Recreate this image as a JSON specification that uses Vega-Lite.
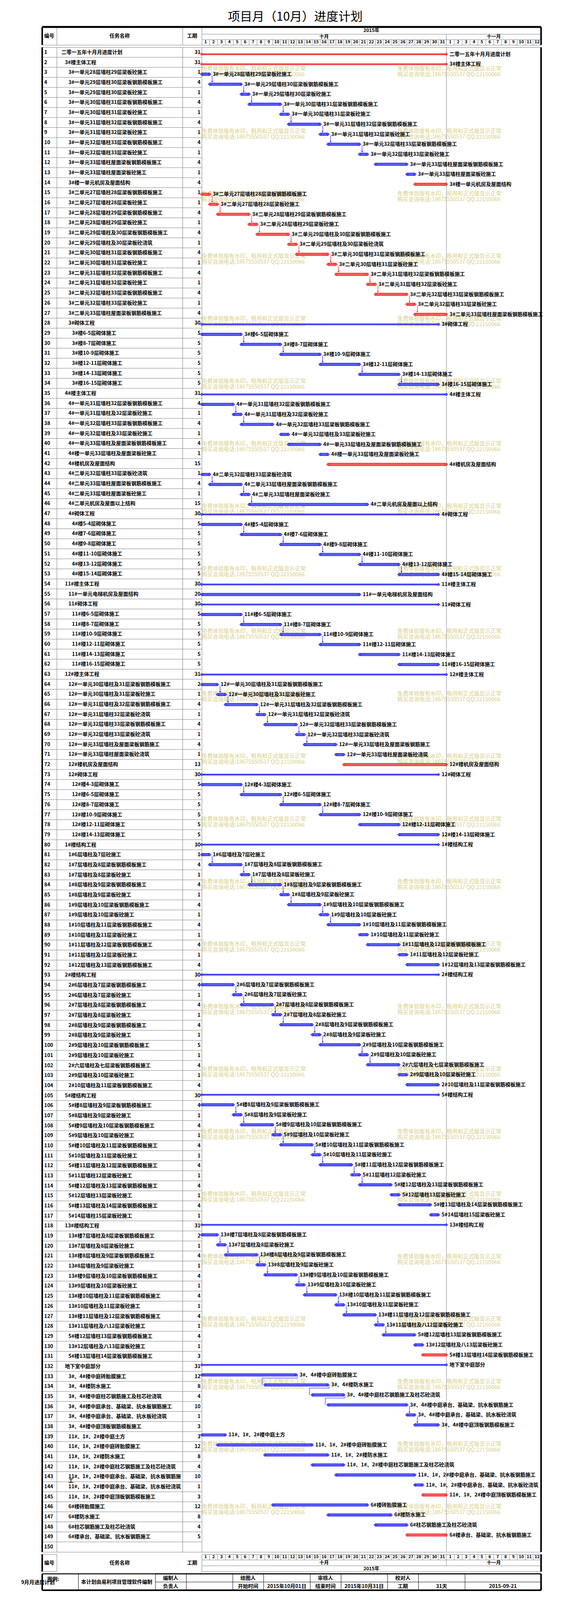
{
"$schema": "https://vega.github.io/schema/vega-lite/v6.json",
"background": "white",
"padding": {"left": 53, "top": 28, "right": 40, "bottom": 16},
"title": {"text": "项目月（10月）进度计划", "fontSize": 31, "fontWeight": "normal", "font": "Noto Sans CJK SC", "anchor": "middle", "offset": 6, "color": "black", "dx": 34},
"config": {
  "view": {"stroke": "#808080", "strokeWidth": 1},
  "text": {"font": "Noto Sans CJK SC", "fontWeight": "bold", "fontSize": 13, "color": "black"},
  "axis": {"disable": true},
  "legend": {"disable": true},
  "concat": {"spacing": 0}
},
"datasets": {
  "tasks": [
    {"id":1,"n":"二零一五年十月月进度计划","d":31,"s":0,"e":31,"c":1,"m":1,"lv":0},
    {"id":2,"n":"3#楼主体工程","d":31,"s":0,"e":31,"c":1,"m":1,"lv":1},
    {"id":3,"n":"3#一单元28层墙柱29层梁板砼施工","d":1,"s":0,"e":1,"c":0,"m":0,"lv":2},
    {"id":4,"n":"3#一单元29层墙柱30层梁板钢筋模板施工","d":4,"s":1,"e":5,"c":0,"m":0,"lv":2},
    {"id":5,"n":"3#一单元29层墙柱30层梁板砼施工","d":1,"s":5,"e":6,"c":0,"m":0,"lv":2},
    {"id":6,"n":"3#一单元30层墙柱31层梁板钢筋模板施工","d":4,"s":6,"e":10,"c":0,"m":0,"lv":2},
    {"id":7,"n":"3#一单元30层墙柱31层梁板砼施工","d":1,"s":10,"e":11,"c":0,"m":0,"lv":2},
    {"id":8,"n":"3#一单元31层墙柱32层梁板钢筋模板施工","d":4,"s":11,"e":15,"c":0,"m":0,"lv":2},
    {"id":9,"n":"3#一单元31层墙柱32层梁板砼施工","d":1,"s":15,"e":16,"c":0,"m":0,"lv":2},
    {"id":10,"n":"3#一单元32层墙柱33层梁板钢筋模板施工","d":4,"s":16,"e":20,"c":0,"m":0,"lv":2},
    {"id":11,"n":"3#一单元32层墙柱33层梁板砼施工","d":1,"s":20,"e":21,"c":0,"m":0,"lv":2},
    {"id":12,"n":"3#一单元33层墙柱屋面梁板钢筋模板施工","d":4,"s":22,"e":26,"c":0,"m":0,"lv":2},
    {"id":13,"n":"3#一单元33层墙柱屋面梁板砼施工","d":1,"s":26,"e":27,"c":0,"m":0,"lv":2},
    {"id":14,"n":"3#楼一单元机房及屋面结构","d":4,"s":27,"e":31,"c":1,"m":0,"lv":2},
    {"id":15,"n":"3#二单元27层墙柱28层梁板钢筋模板施工","d":1,"s":0,"e":1,"c":1,"m":0,"lv":2},
    {"id":16,"n":"3#二单元27层墙柱28层梁板砼施工","d":1,"s":1,"e":2,"c":1,"m":0,"lv":2},
    {"id":17,"n":"3#二单元28层墙柱29层梁板钢筋模板施工","d":4,"s":2,"e":6,"c":1,"m":0,"lv":2},
    {"id":18,"n":"3#二单元28层墙柱29层梁板砼施工","d":1,"s":6,"e":7,"c":1,"m":0,"lv":2},
    {"id":19,"n":"3#二单元29层墙柱及30层梁板钢筋模板施工","d":4,"s":7,"e":11,"c":1,"m":0,"lv":2},
    {"id":20,"n":"3#二单元29层墙柱及30层梁板砼浇筑","d":1,"s":11,"e":12,"c":1,"m":0,"lv":2},
    {"id":21,"n":"3#二单元30层墙柱31层梁板钢筋模板施工","d":4,"s":12,"e":16,"c":1,"m":0,"lv":2},
    {"id":22,"n":"3#二单元30层墙柱31层梁板砼施工","d":1,"s":16,"e":17,"c":1,"m":0,"lv":2},
    {"id":23,"n":"3#二单元31层墙柱32层梁板钢筋模板施工","d":4,"s":17,"e":21,"c":1,"m":0,"lv":2},
    {"id":24,"n":"3#二单元31层墙柱32层梁板砼施工","d":1,"s":21,"e":22,"c":1,"m":0,"lv":2},
    {"id":25,"n":"3#二单元32层墙柱33层梁板钢筋模板施工","d":4,"s":22,"e":26,"c":1,"m":0,"lv":2},
    {"id":26,"n":"3#二单元32层墙柱33层梁板砼施工","d":1,"s":26,"e":27,"c":1,"m":0,"lv":2},
    {"id":27,"n":"3#二单元33层墙柱屋面梁板钢筋模板施工","d":4,"s":27,"e":31,"c":1,"m":0,"lv":2},
    {"id":28,"n":"3#砌体工程","d":30,"s":0,"e":30,"c":0,"m":1,"lv":2},
    {"id":29,"n":"3#楼6-5层砌体施工","d":5,"s":0,"e":5,"c":0,"m":0,"lv":3},
    {"id":30,"n":"3#楼8-7层砌体施工","d":5,"s":5,"e":10,"c":0,"m":0,"lv":3},
    {"id":31,"n":"3#楼10-9层砌体施工","d":5,"s":10,"e":15,"c":0,"m":0,"lv":3},
    {"id":32,"n":"3#楼12-11层砌体施工","d":5,"s":15,"e":20,"c":0,"m":0,"lv":3},
    {"id":33,"n":"3#楼14-13层砌体施工","d":5,"s":20,"e":25,"c":0,"m":0,"lv":3},
    {"id":34,"n":"3#楼16-15层砌体施工","d":5,"s":25,"e":30,"c":0,"m":0,"lv":3},
    {"id":35,"n":"4#楼主体工程","d":31,"s":0,"e":31,"c":0,"m":1,"lv":1},
    {"id":36,"n":"4#一单元31层墙柱32层梁板钢筋模板施工","d":4,"s":0,"e":4,"c":0,"m":0,"lv":2},
    {"id":37,"n":"4#一单元31层墙柱及32层梁板砼施工","d":1,"s":4,"e":5,"c":0,"m":0,"lv":2},
    {"id":38,"n":"4#一单元32层墙柱33层梁板钢筋模板施工","d":4,"s":5,"e":9,"c":0,"m":0,"lv":2},
    {"id":39,"n":"4#一单元32层墙柱及33层梁板砼施工","d":1,"s":10,"e":11,"c":0,"m":0,"lv":2},
    {"id":40,"n":"4#一单元33层墙柱及屋面梁板钢筋模板施工","d":4,"s":11,"e":15,"c":0,"m":0,"lv":2},
    {"id":41,"n":"4#楼一单元33层墙柱及屋面梁板砼施工","d":1,"s":15,"e":16,"c":0,"m":0,"lv":2},
    {"id":42,"n":"4#楼机房及屋面结构","d":15,"s":16,"e":31,"c":1,"m":0,"lv":2},
    {"id":43,"n":"4#二单元32层墙柱33层梁板砼浇筑","d":1,"s":0,"e":1,"c":0,"m":0,"lv":2},
    {"id":44,"n":"4#二单元33层墙柱屋面梁板钢筋模板施工","d":4,"s":1,"e":5,"c":0,"m":0,"lv":2},
    {"id":45,"n":"4#二单元33层墙柱屋面梁板砼施工","d":1,"s":5,"e":6,"c":0,"m":0,"lv":2},
    {"id":46,"n":"4#二单元机房及屋面以上结构","d":15,"s":6,"e":21,"c":0,"m":0,"lv":2},
    {"id":47,"n":"4#砌体工程","d":30,"s":0,"e":30,"c":0,"m":1,"lv":2},
    {"id":48,"n":"4#楼5-4层砌体施工","d":5,"s":0,"e":5,"c":0,"m":0,"lv":3},
    {"id":49,"n":"4#楼7-6层砌体施工","d":5,"s":5,"e":10,"c":0,"m":0,"lv":3},
    {"id":50,"n":"4#楼9-8层砌体施工","d":5,"s":10,"e":15,"c":0,"m":0,"lv":3},
    {"id":51,"n":"4#楼11-10层砌体施工","d":5,"s":15,"e":20,"c":0,"m":0,"lv":3},
    {"id":52,"n":"4#楼13-12层砌体施工","d":5,"s":20,"e":25,"c":0,"m":0,"lv":3},
    {"id":53,"n":"4#楼15-14层砌体施工","d":5,"s":25,"e":30,"c":0,"m":0,"lv":3},
    {"id":54,"n":"11#楼主体工程","d":30,"s":0,"e":30,"c":0,"m":1,"lv":1},
    {"id":55,"n":"11#一单元电梯机房及屋面结构","d":20,"s":0,"e":20,"c":0,"m":0,"lv":2},
    {"id":56,"n":"11#砌体工程","d":30,"s":0,"e":30,"c":0,"m":1,"lv":2},
    {"id":57,"n":"11#楼6-5层砌体施工","d":5,"s":0,"e":5,"c":0,"m":0,"lv":3},
    {"id":58,"n":"11#楼8-7层砌体施工","d":5,"s":5,"e":10,"c":0,"m":0,"lv":3},
    {"id":59,"n":"11#楼10-9层砌体施工","d":5,"s":10,"e":15,"c":0,"m":0,"lv":3},
    {"id":60,"n":"11#楼12-11层砌体施工","d":5,"s":15,"e":20,"c":0,"m":0,"lv":3},
    {"id":61,"n":"11#楼14-13层砌体施工","d":5,"s":20,"e":25,"c":0,"m":0,"lv":3},
    {"id":62,"n":"11#楼16-15层砌体施工","d":5,"s":25,"e":30,"c":0,"m":0,"lv":3},
    {"id":63,"n":"12#楼主体工程","d":31,"s":0,"e":31,"c":0,"m":1,"lv":1},
    {"id":64,"n":"12#一单元30层墙柱及31层梁板钢筋模板施工","d":2,"s":0,"e":2,"c":0,"m":0,"lv":2},
    {"id":65,"n":"12#一单元30层墙柱及31层梁板砼施工","d":1,"s":2,"e":3,"c":0,"m":0,"lv":2},
    {"id":66,"n":"12#一单元31层墙柱及32层梁板钢筋模板施工","d":4,"s":3,"e":7,"c":0,"m":0,"lv":2},
    {"id":67,"n":"12#一单元31层墙柱32层梁板砼浇筑","d":1,"s":7,"e":8,"c":0,"m":0,"lv":2},
    {"id":68,"n":"12#一单元32层墙柱33层梁板钢筋模板施工","d":4,"s":8,"e":12,"c":0,"m":0,"lv":2},
    {"id":69,"n":"12#一单元32层墙柱33层梁板砼浇筑","d":1,"s":12,"e":13,"c":0,"m":0,"lv":2},
    {"id":70,"n":"12#一单元33层墙柱及屋面梁板钢筋施工","d":4,"s":13,"e":17,"c":0,"m":0,"lv":2},
    {"id":71,"n":"12#一单元33层墙柱屋面梁板砼浇筑","d":1,"s":17,"e":18,"c":0,"m":0,"lv":2},
    {"id":72,"n":"12#楼机房及屋面结构","d":13,"s":18,"e":31,"c":1,"m":0,"lv":2},
    {"id":73,"n":"12#砌体工程","d":30,"s":0,"e":30,"c":0,"m":1,"lv":2},
    {"id":74,"n":"12#楼4-3层砌体施工","d":5,"s":0,"e":5,"c":0,"m":0,"lv":3},
    {"id":75,"n":"12#楼6-5层砌体施工","d":5,"s":5,"e":10,"c":0,"m":0,"lv":3},
    {"id":76,"n":"12#楼8-7层砌体施工","d":5,"s":10,"e":15,"c":0,"m":0,"lv":3},
    {"id":77,"n":"12#楼10-9层砌体施工","d":5,"s":15,"e":20,"c":0,"m":0,"lv":3},
    {"id":78,"n":"12#楼12-11层砌体施工","d":5,"s":20,"e":25,"c":0,"m":0,"lv":3},
    {"id":79,"n":"12#楼14-13层砌体施工","d":5,"s":25,"e":30,"c":0,"m":0,"lv":3},
    {"id":80,"n":"1#楼结构工程","d":30,"s":0,"e":30,"c":0,"m":1,"lv":1},
    {"id":81,"n":"1#6层墙柱及7层砼施工","d":1,"s":0,"e":1,"c":0,"m":0,"lv":2},
    {"id":82,"n":"1#7层墙柱及8层梁板钢筋模板施工","d":4,"s":1,"e":5,"c":0,"m":0,"lv":2},
    {"id":83,"n":"1#7层墙柱及8层梁板砼施工","d":1,"s":5,"e":6,"c":0,"m":0,"lv":2},
    {"id":84,"n":"1#8层墙柱及9层梁板钢筋模板施工","d":4,"s":6,"e":10,"c":0,"m":0,"lv":2},
    {"id":85,"n":"1#8层墙柱及9层梁板砼施工","d":1,"s":10,"e":11,"c":0,"m":0,"lv":2},
    {"id":86,"n":"1#9层墙柱及10层梁板钢筋模板施工","d":4,"s":11,"e":15,"c":0,"m":0,"lv":2},
    {"id":87,"n":"1#9层墙柱及10层梁板砼施工","d":1,"s":15,"e":16,"c":0,"m":0,"lv":2},
    {"id":88,"n":"1#10层墙柱及11层梁板钢筋模板施工","d":4,"s":16,"e":20,"c":0,"m":0,"lv":2},
    {"id":89,"n":"1#10层墙柱及11层梁板砼施工","d":1,"s":20,"e":21,"c":0,"m":0,"lv":2},
    {"id":90,"n":"1#11层墙柱及12层梁板钢筋模板施工","d":4,"s":21,"e":25,"c":0,"m":0,"lv":2},
    {"id":91,"n":"1#11层墙柱及12层梁板砼施工","d":1,"s":25,"e":26,"c":0,"m":0,"lv":2},
    {"id":92,"n":"1#12层墙柱及13层梁板钢筋模板施工","d":4,"s":26,"e":30,"c":0,"m":0,"lv":2},
    {"id":93,"n":"2#楼结构工程","d":30,"s":0,"e":30,"c":0,"m":1,"lv":1},
    {"id":94,"n":"2#6层墙柱及7层梁板钢筋模板施工","d":4,"s":0,"e":4,"c":0,"m":0,"lv":2},
    {"id":95,"n":"2#6层墙柱及7层梁板砼施工","d":1,"s":4,"e":5,"c":0,"m":0,"lv":2},
    {"id":96,"n":"2#7层墙柱及8层梁板钢筋模板施工","d":4,"s":5,"e":9,"c":0,"m":0,"lv":2},
    {"id":97,"n":"2#7层墙柱及8层梁板砼施工","d":1,"s":9,"e":10,"c":0,"m":0,"lv":2},
    {"id":98,"n":"2#8层墙柱及9层梁板钢筋模板施工","d":4,"s":10,"e":14,"c":0,"m":0,"lv":2},
    {"id":99,"n":"2#8层墙柱及9层梁板砼施工","d":1,"s":14,"e":15,"c":0,"m":0,"lv":2},
    {"id":100,"n":"2#9层墙柱及10层梁板钢筋模板施工","d":5,"s":15,"e":20,"c":0,"m":0,"lv":2},
    {"id":101,"n":"2#9层墙柱及10层梁板砼施工","d":1,"s":20,"e":21,"c":0,"m":0,"lv":2},
    {"id":102,"n":"2#六层墙柱及七层梁板钢筋模板施工","d":4,"s":21,"e":25,"c":0,"m":0,"lv":2},
    {"id":103,"n":"2#9层墙柱及10层梁板砼施工","d":1,"s":25,"e":26,"c":0,"m":0,"lv":2},
    {"id":104,"n":"2#10层墙柱及11层梁板钢筋模板施工","d":4,"s":26,"e":30,"c":0,"m":0,"lv":2},
    {"id":105,"n":"5#楼结构工程","d":30,"s":0,"e":30,"c":0,"m":1,"lv":1},
    {"id":106,"n":"5#楼8层墙柱及9层梁板钢筋模板施工","d":4,"s":0,"e":4,"c":0,"m":0,"lv":2},
    {"id":107,"n":"5#8层墙柱及9层梁板砼施工","d":1,"s":4,"e":5,"c":0,"m":0,"lv":2},
    {"id":108,"n":"5#楼9层墙柱及10层梁板钢筋模板施工","d":4,"s":5,"e":9,"c":0,"m":0,"lv":2},
    {"id":109,"n":"5#9层墙柱及10层梁板砼施工","d":1,"s":9,"e":10,"c":0,"m":0,"lv":2},
    {"id":110,"n":"5#楼10层墙柱及11层梁板钢筋模板施工","d":4,"s":10,"e":14,"c":0,"m":0,"lv":2},
    {"id":111,"n":"5#10层墙柱及11层梁板砼施工","d":1,"s":14,"e":15,"c":0,"m":0,"lv":2},
    {"id":112,"n":"5#楼11层墙柱及12层梁板钢筋模板施工","d":4,"s":15,"e":19,"c":0,"m":0,"lv":2},
    {"id":113,"n":"5#11层墙柱12层梁板砼施工","d":1,"s":19,"e":20,"c":0,"m":0,"lv":2},
    {"id":114,"n":"5#楼12层墙柱及13层梁板钢筋模板施工","d":4,"s":20,"e":24,"c":0,"m":0,"lv":2},
    {"id":115,"n":"5#12层墙柱13层梁板砼施工","d":1,"s":24,"e":25,"c":0,"m":0,"lv":2},
    {"id":116,"n":"5#楼13层墙柱及14层梁板钢筋模板施工","d":4,"s":25,"e":29,"c":0,"m":0,"lv":2},
    {"id":117,"n":"5#14层墙柱15层梁板砼施工","d":1,"s":29,"e":30,"c":0,"m":0,"lv":2},
    {"id":118,"n":"13#楼结构工程","d":31,"s":0,"e":31,"c":0,"m":1,"lv":1},
    {"id":119,"n":"13#楼7层墙柱及8层梁板钢筋模板施工","d":2,"s":0,"e":2,"c":0,"m":0,"lv":2},
    {"id":120,"n":"13#7层墙柱及8层梁板砼施工","d":1,"s":2,"e":3,"c":0,"m":0,"lv":2},
    {"id":121,"n":"13#楼8层墙柱及9层梁板钢筋模板施工","d":4,"s":3,"e":7,"c":0,"m":0,"lv":2},
    {"id":122,"n":"13#8层墙柱及9层梁板砼施工","d":1,"s":7,"e":8,"c":0,"m":0,"lv":2},
    {"id":123,"n":"13#楼9层墙柱及10层梁板钢筋模板施工","d":4,"s":8,"e":12,"c":0,"m":0,"lv":2},
    {"id":124,"n":"13#9层墙柱及10层梁板砼施工","d":1,"s":12,"e":13,"c":0,"m":0,"lv":2},
    {"id":125,"n":"13#楼10层墙柱及11层梁板钢筋模板施工","d":4,"s":13,"e":17,"c":0,"m":0,"lv":2},
    {"id":126,"n":"13#10层墙柱及11层梁板砼施工","d":1,"s":17,"e":18,"c":0,"m":0,"lv":2},
    {"id":127,"n":"13#楼11层墙柱及12层梁板钢筋模板施工","d":4,"s":18,"e":22,"c":0,"m":0,"lv":2},
    {"id":128,"n":"13#11层墙柱及八12层梁板砼施工","d":1,"s":22,"e":23,"c":0,"m":0,"lv":2},
    {"id":129,"n":"5#楼12层墙柱13层梁板钢筋模板施工","d":4,"s":23,"e":27,"c":0,"m":0,"lv":2},
    {"id":130,"n":"13#12层墙柱及八13层梁板砼施工","d":1,"s":27,"e":28,"c":0,"m":0,"lv":2},
    {"id":131,"n":"5#楼13层墙柱14层梁板钢筋模板施工","d":3,"s":28,"e":31,"c":1,"m":0,"lv":2},
    {"id":132,"n":"地下室中庭部分","d":31,"s":0,"e":31,"c":0,"m":1,"lv":1},
    {"id":133,"n":"3#、4#楼中庭砖胎膜施工","d":12,"s":0,"e":12,"c":0,"m":0,"lv":2},
    {"id":134,"n":"3#、4#楼防水施工","d":8,"s":8,"e":16,"c":0,"m":0,"lv":2},
    {"id":135,"n":"3#、4#楼中庭柱芯钢筋施工及柱芯砼浇筑","d":4,"s":14,"e":18,"c":0,"m":0,"lv":2},
    {"id":136,"n":"3#、4#楼中庭承台、基础梁、抗水板钢筋施工","d":10,"s":16,"e":26,"c":0,"m":0,"lv":2},
    {"id":137,"n":"3#、4#楼中庭承台、基础梁、抗水板砼浇筑","d":1,"s":26,"e":27,"c":0,"m":0,"lv":2},
    {"id":138,"n":"3#、4#楼中庭顶板钢筋模板施工","d":3,"s":27,"e":30,"c":0,"m":0,"lv":2},
    {"id":139,"n":"11#、1#、2#楼中庭土方","d":3,"s":0,"e":3,"c":0,"m":0,"lv":2},
    {"id":140,"n":"11#、1#、2#楼中庭砖胎膜施工","d":12,"s":2,"e":14,"c":0,"m":0,"lv":2},
    {"id":141,"n":"11#、1#、2#楼防水施工","d":8,"s":8,"e":16,"c":0,"m":0,"lv":2},
    {"id":142,"n":"11#、1#、2#楼中庭柱芯钢筋施工及柱芯砼浇筑","d":4,"s":14,"e":18,"c":0,"m":0,"lv":2},
    {"id":143,"n":"11#、1#，2#楼中庭承台、基础梁、抗水板钢筋施\n工","d":10,"s":17,"e":27,"c":0,"m":0,"lv":2},
    {"id":144,"n":"11#、1#、2#楼中庭承台、基础梁、抗水板砼浇筑","d":1,"s":27,"e":28,"c":0,"m":0,"lv":2},
    {"id":145,"n":"11#、1#、2#楼中庭顶板钢筋模板施工","d":3,"s":28,"e":31,"c":1,"m":0,"lv":2},
    {"id":146,"n":"6#楼砖胎膜施工","d":12,"s":9,"e":21,"c":0,"m":0,"lv":2},
    {"id":147,"n":"6#楼防水施工","d":8,"s":16,"e":24,"c":0,"m":0,"lv":2},
    {"id":148,"n":"6#柱芯钢筋施工及柱芯砼浇筑","d":4,"s":22,"e":26,"c":0,"m":0,"lv":2},
    {"id":149,"n":"6#楼承台、基础梁、抗水板钢筋施工","d":5,"s":26,"e":31,"c":1,"m":0,"lv":2},
    {"id":150,"n":"","d":null,"s":null,"e":null,"c":0,"m":0,"lv":2}
  ],
  "links": [
    {"a":3,"b":4,"d":1,"c":0},{"a":4,"b":5,"d":5,"c":0},{"a":5,"b":6,"d":6,"c":0},{"a":6,"b":7,"d":10,"c":0},
    {"a":7,"b":8,"d":11,"c":0},{"a":8,"b":9,"d":15,"c":0},{"a":9,"b":10,"d":16,"c":0},{"a":10,"b":11,"d":20,"c":0},
    {"a":15,"b":16,"d":1,"c":1},{"a":16,"b":17,"d":2,"c":1},{"a":17,"b":18,"d":6,"c":1},{"a":18,"b":19,"d":7,"c":1},
    {"a":19,"b":20,"d":11,"c":1},{"a":20,"b":21,"d":12,"c":1},{"a":21,"b":22,"d":16,"c":1},{"a":22,"b":23,"d":17,"c":1},
    {"a":23,"b":24,"d":21,"c":1},{"a":24,"b":25,"d":22,"c":1},{"a":25,"b":26,"d":26,"c":1},{"a":26,"b":27,"d":27,"c":1},
    {"a":29,"b":30,"d":5,"c":0},{"a":30,"b":31,"d":10,"c":0},{"a":31,"b":32,"d":15,"c":0},{"a":32,"b":33,"d":20,"c":0},{"a":33,"b":34,"d":25,"c":0},
    {"a":36,"b":37,"d":4,"c":0},{"a":37,"b":38,"d":5,"c":0},
    {"a":43,"b":44,"d":1,"c":0},{"a":44,"b":45,"d":5,"c":0},{"a":45,"b":46,"d":6,"c":0},
    {"a":48,"b":49,"d":5,"c":0},{"a":49,"b":50,"d":10,"c":0},{"a":50,"b":51,"d":15,"c":0},{"a":51,"b":52,"d":20,"c":0},{"a":52,"b":53,"d":25,"c":0},
    {"a":57,"b":58,"d":5,"c":0},{"a":58,"b":59,"d":10,"c":0},{"a":59,"b":60,"d":15,"c":0},
    {"a":64,"b":65,"d":2,"c":0},{"a":65,"b":66,"d":3,"c":0},{"a":66,"b":67,"d":7,"c":0},{"a":67,"b":68,"d":8,"c":0},{"a":68,"b":69,"d":12,"c":0},{"a":69,"b":70,"d":13,"c":0},
    {"a":74,"b":75,"d":5,"c":0},{"a":75,"b":76,"d":10,"c":0},{"a":76,"b":77,"d":15,"c":0},
    {"a":81,"b":82,"d":1,"c":0},{"a":82,"b":83,"d":5,"c":0},{"a":83,"b":84,"d":6,"c":0},{"a":84,"b":85,"d":10,"c":0},{"a":85,"b":86,"d":11,"c":0},{"a":86,"b":87,"d":15,"c":0},{"a":87,"b":88,"d":16,"c":0},
    {"a":94,"b":95,"d":4,"c":0},{"a":95,"b":96,"d":5,"c":0},{"a":96,"b":97,"d":9,"c":0},{"a":97,"b":98,"d":10,"c":0},{"a":98,"b":99,"d":14,"c":0},{"a":99,"b":100,"d":15,"c":0},{"a":100,"b":101,"d":20,"c":0},{"a":101,"b":102,"d":21,"c":0},
    {"a":106,"b":107,"d":4,"c":0},{"a":107,"b":108,"d":5,"c":0},{"a":108,"b":109,"d":9,"c":0},{"a":109,"b":110,"d":10,"c":0},{"a":110,"b":111,"d":14,"c":0},{"a":111,"b":112,"d":15,"c":0},{"a":112,"b":113,"d":19,"c":0},{"a":113,"b":114,"d":20,"c":0},
    {"a":119,"b":120,"d":2,"c":0},{"a":120,"b":121,"d":3,"c":0},{"a":121,"b":122,"d":7,"c":0},{"a":122,"b":123,"d":8,"c":0},{"a":123,"b":124,"d":12,"c":0},{"a":124,"b":125,"d":13,"c":0},{"a":125,"b":126,"d":17,"c":0},{"a":126,"b":127,"d":18,"c":0},{"a":127,"b":128,"d":22,"c":0},{"a":128,"b":129,"d":23,"c":0},
    {"a":136,"b":137,"d":26,"c":0},{"a":137,"b":138,"d":27,"c":0}
  ],
  "elbows": [
    {"a":133,"b":134,"d":12,"d2":8},{"a":134,"b":135,"d":16,"d2":14},{"a":135,"b":136,"d":18,"d2":16}
  ],
  "wm": [
    {"r":2.16},{"r":8.41},{"r":14.66},{"r":20.91},{"r":27.16},{"r":33.41},{"r":39.66},{"r":45.91},
    {"r":52.16},{"r":58.41},{"r":64.66},{"r":70.91},{"r":77.16},{"r":83.41},{"r":89.66},{"r":95.91},
    {"r":102.16},{"r":108.41},{"r":114.66},{"r":120.91},{"r":127.16},{"r":133.41},{"r":139.66},{"r":145.91}
  ],
  "year": [{"s":0,"e":43,"t":"2015年"}],
  "months": [{"s":0,"e":31,"t":"十月"},{"s":31,"e":43,"t":"十一月"}],
  "days": [
    {"s":0,"e":1,"t":"1"},{"s":1,"e":2,"t":"2"},{"s":2,"e":3,"t":"3"},{"s":3,"e":4,"t":"4"},{"s":4,"e":5,"t":"5"},
    {"s":5,"e":6,"t":"6"},{"s":6,"e":7,"t":"7"},{"s":7,"e":8,"t":"8"},{"s":8,"e":9,"t":"9"},{"s":9,"e":10,"t":"10"},
    {"s":10,"e":11,"t":"11"},{"s":11,"e":12,"t":"12"},{"s":12,"e":13,"t":"13"},{"s":13,"e":14,"t":"14"},{"s":14,"e":15,"t":"15"},
    {"s":15,"e":16,"t":"16"},{"s":16,"e":17,"t":"17"},{"s":17,"e":18,"t":"18"},{"s":18,"e":19,"t":"19"},{"s":19,"e":20,"t":"20"},
    {"s":20,"e":21,"t":"21"},{"s":21,"e":22,"t":"22"},{"s":22,"e":23,"t":"23"},{"s":23,"e":24,"t":"24"},{"s":24,"e":25,"t":"25"},
    {"s":25,"e":26,"t":"26"},{"s":26,"e":27,"t":"27"},{"s":27,"e":28,"t":"28"},{"s":28,"e":29,"t":"29"},{"s":29,"e":30,"t":"30"},
    {"s":30,"e":31,"t":"31"},{"s":31,"e":32,"t":"1"},{"s":32,"e":33,"t":"2"},{"s":33,"e":34,"t":"3"},{"s":34,"e":35,"t":"4"},
    {"s":35,"e":36,"t":"5"},{"s":36,"e":37,"t":"6"},{"s":37,"e":38,"t":"7"},{"s":38,"e":39,"t":"8"},{"s":39,"e":40,"t":"9"},
    {"s":40,"e":41,"t":"10"},{"s":41,"e":42,"t":"11"},{"s":42,"e":43,"t":"12"}
  ],
  "leg": [
    {"c":3,"r":1,"t":"编制人"},{"c":3,"r":2,"t":"负责人"},
    {"c":4,"r":1,"t":""},{"c":4,"r":2,"t":""},
    {"c":5,"r":1,"t":"绘图人"},{"c":5,"r":2,"t":"开始时间"},
    {"c":6,"r":1,"t":""},{"c":6,"r":2,"t":"2015年10月01日"},
    {"c":7,"r":1,"t":"审核人"},{"c":7,"r":2,"t":"结束时间"},
    {"c":8,"r":1,"t":""},{"c":8,"r":2,"t":"2015年10月31日"},
    {"c":9,"r":1,"t":"校对人"},{"c":9,"r":2,"t":"工期"},
    {"c":10,"r":1,"t":""},{"c":10,"r":2,"t":"31天"},
    {"c":11,"r":1,"t":""},{"c":11,"r":2,"t":"2015-09-21"}
  ]
},
"spacing": 0,
"vconcat": [
  {"hconcat": [
    {"width": 37, "height": 46, "data": {"values": [{"t": "编号"}]}, "layer": [
      {"mark": {"type": "text", "align": "left", "dx": 5}, "encoding": {"x": {"value": 0}, "text": {"field": "t"}}},
      {"mark": {"type": "rule", "color": "black", "strokeWidth": 5}, "encoding": {"y": {"value": 0}}},
      {"mark": {"type": "rule", "color": "black", "strokeWidth": 4}, "encoding": {"x": {"value": 0}}}
    ]},
    {"width": 322, "height": 46, "data": {"values": [{"t": "任务名称"}]}, "layer": [
      {"mark": {"type": "text"}, "encoding": {"text": {"field": "t"}}},
      {"mark": {"type": "rule", "color": "black", "strokeWidth": 5}, "encoding": {"y": {"value": 0}}}
    ]},
    {"width": 49, "height": 46, "data": {"values": [{"t": "工期"}]}, "layer": [
      {"mark": {"type": "text"}, "encoding": {"text": {"field": "t"}}},
      {"mark": {"type": "rule", "color": "black", "strokeWidth": 5}, "encoding": {"y": {"value": 0}}}
    ]},
    {"vconcat": [
      {"width": 868, "height": 18, "data": {"name": "year"}, "transform": [{"calculate": "(datum.s + datum.e) / 2", "as": "mid"}], "layer": [
        {"mark": {"type": "text", "fontSize": 12}, "encoding": {"x": {"field": "mid", "type": "quantitative", "scale": {"domain": [0, 43], "nice": false, "zero": false}}, "text": {"field": "t"}}},
        {"mark": {"type": "rule", "color": "black", "strokeWidth": 5}, "encoding": {"y": {"value": 0}}},
        {"mark": {"type": "rule", "color": "black", "strokeWidth": 4}, "encoding": {"x": {"value": "width"}}}
      ]},
      {"width": 868, "height": 14, "data": {"name": "months"}, "transform": [{"calculate": "(datum.s + datum.e) / 2", "as": "mid"}], "layer": [
        {"mark": {"type": "text", "fontSize": 12}, "encoding": {"x": {"field": "mid", "type": "quantitative", "scale": {"domain": [0, 43], "nice": false, "zero": false}}, "text": {"field": "t"}}},
        {"transform": [{"filter": "datum.s > 0"}], "mark": {"type": "rule", "color": "#808080"}, "encoding": {"x": {"field": "s", "type": "quantitative"}}},
        {"mark": {"type": "rule", "color": "black", "strokeWidth": 4}, "encoding": {"x": {"value": "width"}}}
      ]},
      {"width": 868, "height": 14, "data": {"name": "days"}, "transform": [{"calculate": "(datum.s + datum.e) / 2", "as": "mid"}], "layer": [
        {"mark": {"type": "text", "fontSize": 11}, "encoding": {"x": {"field": "mid", "type": "quantitative", "scale": {"domain": [0, 43], "nice": false, "zero": false}}, "text": {"field": "t"}}},
        {"transform": [{"filter": "datum.s > 0"}], "mark": {"type": "rule", "color": "#808080"}, "encoding": {"x": {"field": "s", "type": "quantitative"}}},
        {"mark": {"type": "rule", "color": "black", "strokeWidth": 4}, "encoding": {"x": {"value": "width"}}}
      ]}
    ], "spacing": 0, "bounds": "flush"}
  ], "spacing": 0, "bounds": "flush"},
  {"hconcat": [
    {"width": 37, "height": 3852, "data": {"name": "tasks"}, "layer": [
      {"transform": [{"filter": "datum.id < 150"}], "mark": {"type": "rule", "color": "#808080", "yOffset": 12.84}, "encoding": {"y": {"field": "id", "type": "quantitative", "scale": {"domain": [0.5, 150.5], "reverse": true, "nice": false, "zero": false}}}},
      {"mark": {"type": "text", "align": "left", "baseline": "middle", "dx": 5}, "encoding": {"x": {"value": 0}, "y": {"field": "id", "type": "quantitative"}, "text": {"field": "id", "type": "nominal"}}},
      {"data": {"values": [{}]}, "mark": {"type": "rule", "color": "black", "strokeWidth": 4}, "encoding": {"x": {"value": 0}}}
    ]},
    {"width": 322, "height": 3852, "data": {"name": "tasks"}, "layer": [
      {"transform": [{"filter": "datum.id < 150"}], "mark": {"type": "rule", "color": "#808080", "yOffset": 12.84}, "encoding": {"y": {"field": "id", "type": "quantitative", "scale": {"domain": [0.5, 150.5], "reverse": true, "nice": false, "zero": false}}}},
      {"mark": {"type": "text", "align": "left", "baseline": "middle", "lineBreak": "\n", "lineHeight": 11}, "encoding": {"x": {"field": "lv", "type": "quantitative", "scale": {"domain": [0, 3], "range": [12, 39]}}, "y": {"field": "id", "type": "quantitative"}, "text": {"field": "n"}}}
    ]},
    {"width": 49, "height": 3852, "data": {"name": "tasks"}, "layer": [
      {"transform": [{"filter": "datum.id < 150"}], "mark": {"type": "rule", "color": "#808080", "yOffset": 12.84}, "encoding": {"y": {"field": "id", "type": "quantitative", "scale": {"domain": [0.5, 150.5], "reverse": true, "nice": false, "zero": false}}}},
      {"transform": [{"filter": "datum.d != null"}], "mark": {"type": "text", "align": "right", "baseline": "middle", "dx": -3}, "encoding": {"x": {"value": "width"}, "y": {"field": "id", "type": "quantitative"}, "text": {"field": "d", "type": "nominal"}}}
    ]},
    {"width": 868, "height": 3852, "layer": [
      {"data": {"name": "wm"}, "mark": {"type": "text", "align": "left", "baseline": "top", "fontSize": 14, "fontWeight": "normal", "color": "#d8cd88", "lineHeight": 15, "text": ["免费体验版有水印，租用和正式版显示正常", "购买咨询电话:18675550537 QQ:22150066"]}, "encoding": {"x": {"datum": 0, "type": "quantitative", "scale": {"domain": [0, 43], "nice": false, "zero": false}}, "y": {"field": "r", "type": "quantitative", "scale": {"domain": [0.5, 150.5], "reverse": true, "nice": false, "zero": false}}}},
      {"data": {"name": "wm"}, "mark": {"type": "text", "align": "left", "baseline": "top", "fontSize": 14, "fontWeight": "normal", "color": "#d8cd88", "lineHeight": 15, "text": ["免费体验版有水印，租用和正式版显示正常", "购买咨询电话:18675550537 QQ:22150066"]}, "encoding": {"x": {"datum": 24.8, "type": "quantitative"}, "y": {"field": "r", "type": "quantitative"}}},
      {"data": {"values": [{}]}, "mark": {"type": "rule", "color": "black", "strokeDash": [2, 2]}, "encoding": {"x": {"datum": 31, "type": "quantitative"}}},
      {"data": {"name": "links"}, "mark": {"type": "rule", "xOffset": 6.5, "yOffset": 4, "y2Offset": -5}, "encoding": {"x": {"field": "d", "type": "quantitative"}, "y": {"field": "a", "type": "quantitative"}, "y2": {"field": "b"}, "color": {"field": "c", "type": "nominal", "scale": {"domain": [0, 1], "range": ["#0000ff", "#ff0000"]}}}},
      {"data": {"name": "links"}, "mark": {"type": "point", "shape": "triangle-down", "filled": true, "opacity": 1, "size": 18, "xOffset": 6.5, "yOffset": -6.5}, "encoding": {"x": {"field": "d", "type": "quantitative"}, "y": {"field": "b", "type": "quantitative"}, "color": {"field": "c", "type": "nominal"}}},
      {"data": {"name": "elbows"}, "mark": {"type": "rule", "color": "#0000ff", "xOffset": 3, "yOffset": 3, "y2Offset": 8}, "encoding": {"x": {"field": "d", "type": "quantitative"}, "y": {"field": "a", "type": "quantitative"}, "y2": {"field": "a"}}},
      {"data": {"name": "elbows"}, "mark": {"type": "rule", "color": "#0000ff", "xOffset": 3, "x2Offset": -7, "yOffset": 8}, "encoding": {"x": {"field": "d", "type": "quantitative"}, "x2": {"field": "d2"}, "y": {"field": "a", "type": "quantitative"}}},
      {"data": {"name": "elbows"}, "mark": {"type": "rule", "color": "#0000ff", "xOffset": -7, "yOffset": 8, "y2Offset": 0}, "encoding": {"x": {"field": "d2", "type": "quantitative"}, "y": {"field": "a", "type": "quantitative"}, "y2": {"field": "b"}}},
      {"data": {"name": "tasks"}, "transform": [{"filter": "datum.s != null && datum.m == 0"}], "mark": {"type": "bar", "orient": "horizontal", "size": 6.5, "strokeWidth": 1}, "encoding": {"x": {"field": "s", "type": "quantitative"}, "x2": {"field": "e"}, "y": {"field": "id", "type": "quantitative"}, "fill": {"field": "c", "type": "nominal", "scale": {"domain": [0, 1], "range": ["#5c5cf8", "#f25c5c"]}}, "stroke": {"field": "c", "type": "nominal", "scale": {"domain": [0, 1], "range": ["#0000ff", "#ff0000"]}}}},
      {"data": {"name": "tasks"}, "transform": [{"filter": "datum.s != null && datum.m == 1"}], "mark": {"type": "bar", "orient": "horizontal", "size": 3, "strokeWidth": 1}, "encoding": {"x": {"field": "s", "type": "quantitative"}, "x2": {"field": "e"}, "y": {"field": "id", "type": "quantitative"}, "fill": {"field": "c", "type": "nominal"}, "stroke": {"field": "c", "type": "nominal"}}},
      {"data": {"name": "tasks"}, "transform": [{"filter": "datum.s != null"}, {"fold": ["s", "e"], "as": ["k", "v"]}], "mark": {"type": "point", "shape": "diamond", "filled": true, "opacity": 1, "size": 55, "strokeWidth": 1}, "encoding": {"x": {"field": "v", "type": "quantitative"}, "y": {"field": "id", "type": "quantitative"}, "fill": {"field": "c", "type": "nominal"}, "stroke": {"field": "c", "type": "nominal"}}},
      {"data": {"name": "tasks"}, "transform": [{"filter": "datum.s != null"}, {"calculate": "replace(datum.n, '\\n', '')", "as": "lab"}], "mark": {"type": "text", "align": "left", "baseline": "middle", "dx": 8}, "encoding": {"x": {"field": "e", "type": "quantitative"}, "y": {"field": "id", "type": "quantitative"}, "text": {"field": "lab"}}},
      {"data": {"values": [{}]}, "mark": {"type": "rule", "color": "black", "strokeWidth": 4}, "encoding": {"x": {"value": "width"}}}
    ]}
  ], "spacing": 0, "bounds": "flush"},
  {"hconcat": [
    {"width": 37, "height": 44, "data": {"values": [{"t": "编号"}]}, "layer": [
      {"mark": {"type": "text", "align": "left", "dx": 5}, "encoding": {"x": {"value": 0}, "text": {"field": "t"}}},
      {"mark": {"type": "rule", "color": "black", "strokeWidth": 4}, "encoding": {"x": {"value": 0}}}
    ]},
    {"width": 322, "height": 44, "data": {"values": [{"t": "任务名称"}]}, "mark": {"type": "text"}, "encoding": {"text": {"field": "t"}}},
    {"width": 49, "height": 44, "data": {"values": [{"t": "工期"}]}, "mark": {"type": "text"}, "encoding": {"text": {"field": "t"}}},
    {"vconcat": [
      {"width": 868, "height": 14, "data": {"name": "days"}, "transform": [{"calculate": "(datum.s + datum.e) / 2", "as": "mid"}], "layer": [
        {"mark": {"type": "text", "fontSize": 11}, "encoding": {"x": {"field": "mid", "type": "quantitative", "scale": {"domain": [0, 43], "nice": false, "zero": false}}, "text": {"field": "t"}}},
        {"transform": [{"filter": "datum.s > 0"}], "mark": {"type": "rule", "color": "#808080"}, "encoding": {"x": {"field": "s", "type": "quantitative"}}},
        {"mark": {"type": "rule", "color": "black", "strokeWidth": 4}, "encoding": {"x": {"value": "width"}}}
      ]},
      {"width": 868, "height": 15, "data": {"name": "months"}, "transform": [{"calculate": "(datum.s + datum.e) / 2", "as": "mid"}], "layer": [
        {"mark": {"type": "text", "fontSize": 12}, "encoding": {"x": {"field": "mid", "type": "quantitative", "scale": {"domain": [0, 43], "nice": false, "zero": false}}, "text": {"field": "t"}}},
        {"transform": [{"filter": "datum.s > 0"}], "mark": {"type": "rule", "color": "#808080"}, "encoding": {"x": {"field": "s", "type": "quantitative"}}},
        {"mark": {"type": "rule", "color": "black", "strokeWidth": 4}, "encoding": {"x": {"value": "width"}}}
      ]},
      {"width": 868, "height": 15, "data": {"name": "year"}, "transform": [{"calculate": "(datum.s + datum.e) / 2", "as": "mid"}], "layer": [
        {"mark": {"type": "text", "fontSize": 12}, "encoding": {"x": {"field": "mid", "type": "quantitative", "scale": {"domain": [0, 43], "nice": false, "zero": false}}, "text": {"field": "t"}}},
        {"mark": {"type": "rule", "color": "black", "strokeWidth": 4}, "encoding": {"x": {"value": "width"}}}
      ]}
    ], "spacing": 0, "bounds": "flush"}
  ], "spacing": 0, "bounds": "flush"},
  {"hconcat": [
    {"width": 92, "height": 42, "view": {"stroke": "black"}, "data": {"values": [{"t": "图例:"}]}, "layer": [
      {"mark": {"type": "text", "dx": -18, "dy": -7}, "encoding": {"text": {"field": "t"}}},
      {"mark": {"type": "text", "dx": -57, "dy": 1, "text": "9月月进度计划"}, "encoding": {}},
      {"mark": {"type": "rule", "color": "black", "strokeWidth": 4}, "encoding": {"x": {"value": 0}}},
      {"mark": {"type": "rule", "color": "black", "strokeWidth": 4}, "encoding": {"y": {"value": "height"}}},
      {"mark": {"type": "rule", "color": "black", "strokeWidth": 2.5}, "encoding": {"y": {"value": 0}}}
    ]},
    {"width": 197, "height": 42, "view": {"stroke": "black"}, "data": {"values": [{"t": "本计划由易利项目管理软件编制"}]}, "layer": [
      {"mark": {"type": "text"}, "encoding": {"text": {"field": "t"}}},
      {"mark": {"type": "rule", "color": "black", "strokeWidth": 4}, "encoding": {"y": {"value": "height"}}},
      {"mark": {"type": "rule", "color": "black", "strokeWidth": 2.5}, "encoding": {"y": {"value": 0}}}
    ]},
    {"width": 79, "height": 42, "view": {"stroke": "black"}, "data": {"name": "leg"}, "transform": [{"filter": "datum.c == 3"}], "layer": [
      {"transform": [{"filter": "datum.r == 2"}], "mark": {"type": "rule", "color": "black"}, "encoding": {"y": {"field": "r", "type": "ordinal", "bandPosition": 0, "scale": {"domain": [1, 2], "paddingInner": 0, "paddingOuter": 0}}}},
      {"mark": "text", "encoding": {"y": {"field": "r", "type": "ordinal"}, "text": {"field": "t"}}},
      {"mark": {"type": "rule", "color": "black", "strokeWidth": 2.5}, "encoding": {"y": {"value": 0}}},
      {"mark": {"type": "rule", "color": "black", "strokeWidth": 4}, "encoding": {"y": {"value": "height"}}}
    ]},
    {"width": 119, "height": 42, "view": {"stroke": "black"}, "data": {"name": "leg"}, "transform": [{"filter": "datum.c == 4"}], "layer": [
      {"transform": [{"filter": "datum.r == 2"}], "mark": {"type": "rule", "color": "black"}, "encoding": {"y": {"field": "r", "type": "ordinal", "bandPosition": 0, "scale": {"domain": [1, 2], "paddingInner": 0, "paddingOuter": 0}}}},
      {"mark": "text", "encoding": {"y": {"field": "r", "type": "ordinal"}, "text": {"field": "t"}}},
      {"mark": {"type": "rule", "color": "black", "strokeWidth": 2.5}, "encoding": {"y": {"value": 0}}},
      {"mark": {"type": "rule", "color": "black", "strokeWidth": 4}, "encoding": {"y": {"value": "height"}}}
    ]},
    {"width": 79, "height": 42, "view": {"stroke": "black"}, "data": {"name": "leg"}, "transform": [{"filter": "datum.c == 5"}], "layer": [
      {"transform": [{"filter": "datum.r == 2"}], "mark": {"type": "rule", "color": "black"}, "encoding": {"y": {"field": "r", "type": "ordinal", "bandPosition": 0, "scale": {"domain": [1, 2], "paddingInner": 0, "paddingOuter": 0}}}},
      {"mark": "text", "encoding": {"y": {"field": "r", "type": "ordinal"}, "text": {"field": "t"}}},
      {"mark": {"type": "rule", "color": "black", "strokeWidth": 2.5}, "encoding": {"y": {"value": 0}}},
      {"mark": {"type": "rule", "color": "black", "strokeWidth": 4}, "encoding": {"y": {"value": "height"}}}
    ]},
    {"width": 119, "height": 42, "view": {"stroke": "black"}, "data": {"name": "leg"}, "transform": [{"filter": "datum.c == 6"}], "layer": [
      {"transform": [{"filter": "datum.r == 2"}], "mark": {"type": "rule", "color": "black"}, "encoding": {"y": {"field": "r", "type": "ordinal", "bandPosition": 0, "scale": {"domain": [1, 2], "paddingInner": 0, "paddingOuter": 0}}}},
      {"mark": "text", "encoding": {"y": {"field": "r", "type": "ordinal"}, "text": {"field": "t"}}},
      {"mark": {"type": "rule", "color": "black", "strokeWidth": 2.5}, "encoding": {"y": {"value": 0}}},
      {"mark": {"type": "rule", "color": "black", "strokeWidth": 4}, "encoding": {"y": {"value": "height"}}}
    ]},
    {"width": 79, "height": 42, "view": {"stroke": "black"}, "data": {"name": "leg"}, "transform": [{"filter": "datum.c == 7"}], "layer": [
      {"transform": [{"filter": "datum.r == 2"}], "mark": {"type": "rule", "color": "black"}, "encoding": {"y": {"field": "r", "type": "ordinal", "bandPosition": 0, "scale": {"domain": [1, 2], "paddingInner": 0, "paddingOuter": 0}}}},
      {"mark": "text", "encoding": {"y": {"field": "r", "type": "ordinal"}, "text": {"field": "t"}}},
      {"mark": {"type": "rule", "color": "black", "strokeWidth": 2.5}, "encoding": {"y": {"value": 0}}},
      {"mark": {"type": "rule", "color": "black", "strokeWidth": 4}, "encoding": {"y": {"value": "height"}}}
    ]},
    {"width": 119, "height": 42, "view": {"stroke": "black"}, "data": {"name": "leg"}, "transform": [{"filter": "datum.c == 8"}], "layer": [
      {"transform": [{"filter": "datum.r == 2"}], "mark": {"type": "rule", "color": "black"}, "encoding": {"y": {"field": "r", "type": "ordinal", "bandPosition": 0, "scale": {"domain": [1, 2], "paddingInner": 0, "paddingOuter": 0}}}},
      {"mark": "text", "encoding": {"y": {"field": "r", "type": "ordinal"}, "text": {"field": "t"}}},
      {"mark": {"type": "rule", "color": "black", "strokeWidth": 2.5}, "encoding": {"y": {"value": 0}}},
      {"mark": {"type": "rule", "color": "black", "strokeWidth": 4}, "encoding": {"y": {"value": "height"}}}
    ]},
    {"width": 79, "height": 42, "view": {"stroke": "black"}, "data": {"name": "leg"}, "transform": [{"filter": "datum.c == 9"}], "layer": [
      {"transform": [{"filter": "datum.r == 2"}], "mark": {"type": "rule", "color": "black"}, "encoding": {"y": {"field": "r", "type": "ordinal", "bandPosition": 0, "scale": {"domain": [1, 2], "paddingInner": 0, "paddingOuter": 0}}}},
      {"mark": "text", "encoding": {"y": {"field": "r", "type": "ordinal"}, "text": {"field": "t"}}},
      {"mark": {"type": "rule", "color": "black", "strokeWidth": 2.5}, "encoding": {"y": {"value": 0}}},
      {"mark": {"type": "rule", "color": "black", "strokeWidth": 4}, "encoding": {"y": {"value": "height"}}}
    ]},
    {"width": 119, "height": 42, "view": {"stroke": "black"}, "data": {"name": "leg"}, "transform": [{"filter": "datum.c == 10"}], "layer": [
      {"transform": [{"filter": "datum.r == 2"}], "mark": {"type": "rule", "color": "black"}, "encoding": {"y": {"field": "r", "type": "ordinal", "bandPosition": 0, "scale": {"domain": [1, 2], "paddingInner": 0, "paddingOuter": 0}}}},
      {"mark": "text", "encoding": {"y": {"field": "r", "type": "ordinal"}, "text": {"field": "t"}}},
      {"mark": {"type": "rule", "color": "black", "strokeWidth": 2.5}, "encoding": {"y": {"value": 0}}},
      {"mark": {"type": "rule", "color": "black", "strokeWidth": 4}, "encoding": {"y": {"value": "height"}}}
    ]},
    {"width": 195, "height": 42, "view": {"stroke": "black"}, "data": {"name": "leg"}, "transform": [{"filter": "datum.c == 11"}], "layer": [
      {"transform": [{"filter": "datum.r == 2"}], "mark": {"type": "rule", "color": "black"}, "encoding": {"y": {"field": "r", "type": "ordinal", "bandPosition": 0, "scale": {"domain": [1, 2], "paddingInner": 0, "paddingOuter": 0}}}},
      {"mark": "text", "encoding": {"y": {"field": "r", "type": "ordinal"}, "text": {"field": "t"}}},
      {"mark": {"type": "rule", "color": "black", "strokeWidth": 2.5}, "encoding": {"y": {"value": 0}}},
      {"mark": {"type": "rule", "color": "black", "strokeWidth": 4}, "encoding": {"y": {"value": "height"}}},
      {"mark": {"type": "rule", "color": "black", "strokeWidth": 4}, "encoding": {"x": {"value": "width"}}}
    ]}
  ], "spacing": 0, "bounds": "flush"}
]
}
